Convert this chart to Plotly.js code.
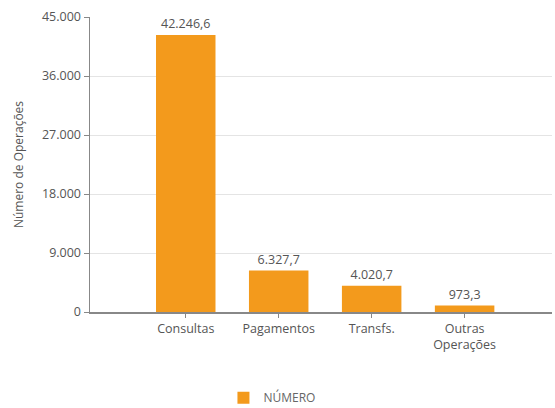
<!DOCTYPE html>
<html>
<head>
<meta charset="utf-8">
<script src="https://cdn.plot.ly/plotly-3.0.1.min.js"></script>
<style>html,body{margin:0;padding:0;background:#fff;}#chart{width:555px;height:408px;}</style>
</head>
<body>
<div id="chart"></div>
<script>
const categories = ["Consultas", "Pagamentos", "Transfs.", "Outras<br>Operações"];
const values = [42246.6, 6327.7, 4020.7, 973.3];
const seriesName = "NÚMERO";
const yTicks = [0, 9000, 18000, 27000, 36000, 45000];

const trace = {
  type: "bar",
  x: categories,
  y: values,
  name: seriesName,
  width: 0.64,
  marker: {color: "#F39A1C"},
  texttemplate: "%{y:,.1f}",
  textposition: "outside",
  cliponaxis: false,
  textfont: {color: "#555", size: 12.5},
  hoverinfo: "skip"
};

const layout = {
  width: 555, height: 408,
  margin: {l: 90, r: 3, t: 17, b: 96},
  separators: ",.",
  font: {family: "Open Sans, sans-serif", size: 12.5, color: "#555"},
  paper_bgcolor: "#fff", plot_bgcolor: "#fff",
  showlegend: true,
  legend: {orientation: "h", xref: "container", yref: "container", x: 0.49, xanchor: "center", y: 0.025, yanchor: "middle", font: {size: 12, color: "#666"}},
  xaxis: {
    range: [-1.03, 3.94],
    showline: true, linecolor: "#888", linewidth: 1.5,
    ticks: "outside", ticklen: 4, tickcolor: "#888",
    showgrid: false, zeroline: false,
    tickfont: {size: 12.5, color: "#555"}
  },
  yaxis: {
    range: [0, 45000],
    tickvals: yTicks,
    tickformat: ",.0f",
    showline: true, linecolor: "#888", linewidth: 1.5,
    ticks: "outside", ticklen: 5, tickcolor: "#888",
    gridcolor: "#e4e4e4", zeroline: false,
    tickfont: {size: 12.5, color: "#555"},
    title: {text: "Número de Operações", font: {size: 12, color: "#555"}, standoff: 16}
  }
};

Plotly.newPlot("chart", [trace], layout, {displayModeBar: false, staticPlot: true});
</script>
</body>
</html>
